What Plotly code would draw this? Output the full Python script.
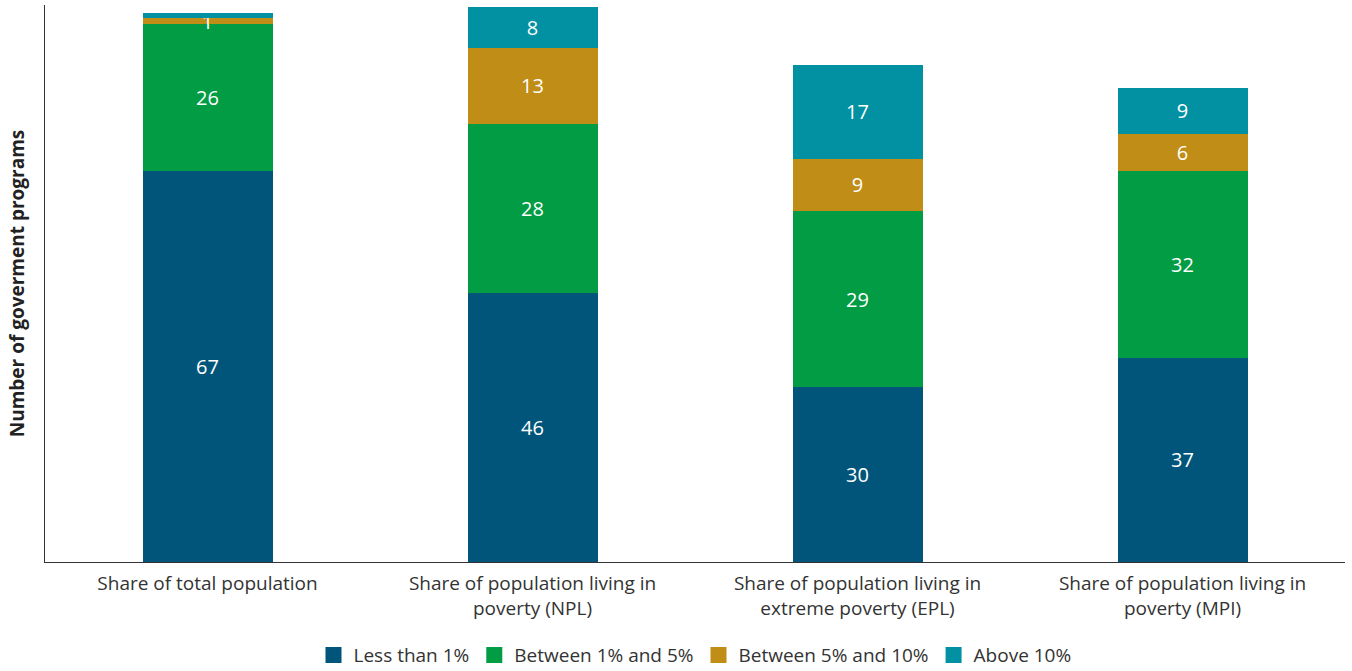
import plotly.graph_objects as go

categories = [
    "Share of total population",
    "Share of population living in<br>poverty (NPL)",
    "Share of population living in<br>extreme poverty (EPL)",
    "Share of population living in<br>poverty (MPI)",
]
series_names = ["Less than 1%", "Between 1% and 5%", "Between 5% and 10%", "Above 10%"]
less_1 = [66.8, 46.0, 29.9, 34.9]
btw_1_5 = [25.1, 28.9, 30.1, 32.0]
btw_5_10 = [1.0, 13.0, 8.9, 6.2]
above_10 = [1.0, 7.0, 16.1, 8.0]
labels_less_1 = ["67", "46", "30", "37"]
labels_1_5 = ["26", "28", "29", "32"]
labels_5_10 = ["1", "13", "9", "6"]
labels_above_10 = ["", "8", "17", "9"]

colors = ["#02557A", "#019C43", "#C08D17", "#0191A3"]
values = [less_1, btw_1_5, btw_5_10, above_10]
labels = [labels_less_1, labels_1_5, labels_5_10, labels_above_10]

FONT = "Open Sans"

fig = go.Figure()
for name, vals, labs, col in zip(series_names, values, labels, colors):
    fig.add_trace(go.Bar(
        x=categories, y=vals, name=name, text=labs,
        textposition="inside", insidetextanchor="middle", textangle=0,
        constraintext="none", cliponaxis=False,
        textfont=dict(color="white", size=20, family=FONT),
        marker=dict(color=col, line=dict(width=0)),
        hoverinfo="skip", showlegend=False, legendgroup=name,
    ))
# legend swatches (larger squares, like the reference)
for name, col in zip(series_names, colors):
    fig.add_trace(go.Scatter(
        x=[None], y=[None], mode="markers", name=name, legendgroup=name,
        marker=dict(symbol="square", size=16, color=col), hoverinfo="skip",
    ))

fig.update_layout(
    barmode="stack",
    bargap=0.6,
    width=1352, height=671,
    margin=dict(l=45, r=7, t=5, b=109, autoexpand=False),
    plot_bgcolor="white", paper_bgcolor="white",
    font=dict(family=FONT, color="#333333", size=19),
    showlegend=True,
    legend=dict(orientation="h", x=0.5, xanchor="center", y=-0.133, yanchor="top",
                font=dict(size=19, color="#333333", family=FONT), traceorder="normal",
                itemwidth=30, itemclick=False, itemsizing="trace"),
    xaxis=dict(showline=True, linecolor="#333333", linewidth=1, ticks="",
               ticklabelstandoff=4,
               automargin=False, tickfont=dict(size=19, color="#333333", family=FONT)),
    yaxis=dict(range=[0, 95.2], showline=True, linecolor="#333333", linewidth=1,
               showticklabels=False, showgrid=False, zeroline=False, ticks="",
               automargin=False,
               title=dict(text="<b>Number of goverment programs</b>",
                          font=dict(size=19, color="#222222", family=FONT), standoff=14)),
)

fig.write_html("out.html", config={"displayModeBar": False},
               post_script="document.body.style.margin='0';document.body.style.padding='0';")
